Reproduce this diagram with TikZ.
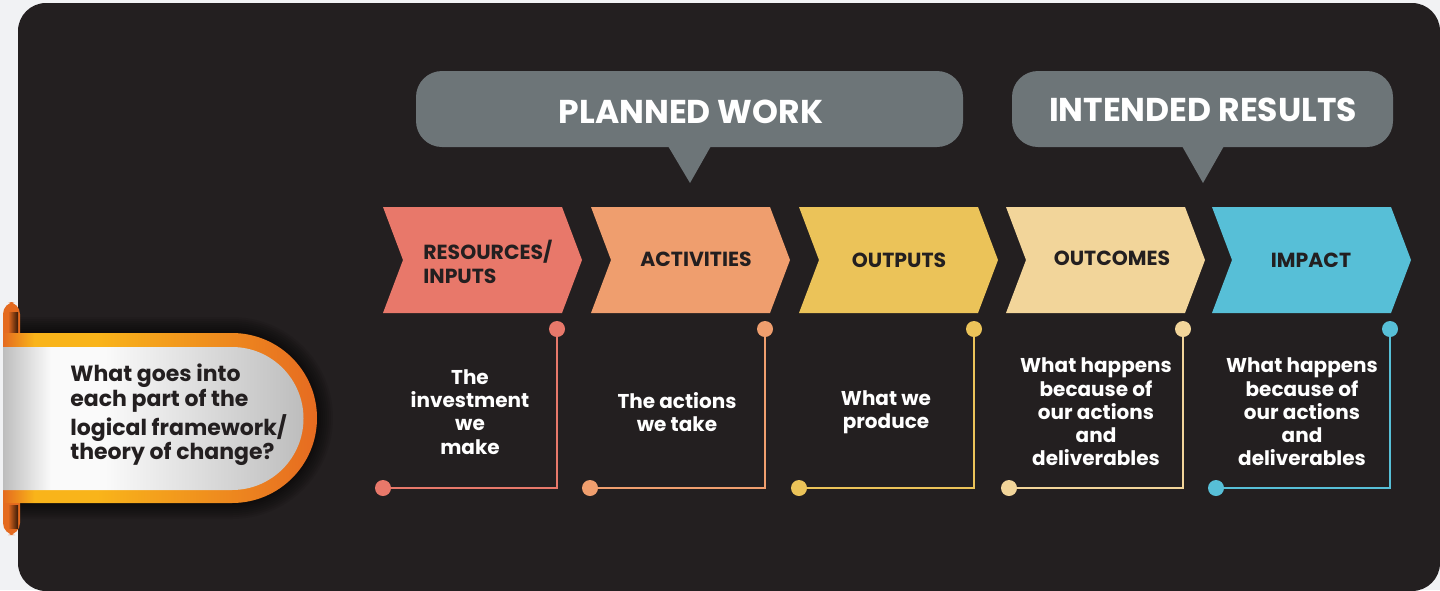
\documentclass[tikz,border=0pt]{standalone}
\usepackage{fontspec}
\setmainfont{Poppins}
\definecolor{bgc}{HTML}{F1F2F4}
\definecolor{panel}{HTML}{231F20}
\definecolor{cgray}{HTML}{6D7578}
\definecolor{ink}{HTML}{231F20}
\definecolor{ccoral}{HTML}{E8786A}
\definecolor{corange}{HTML}{EF9E6E}
\definecolor{cyellow}{HTML}{EBC359}
\definecolor{cpale}{HTML}{F2D59A}
\definecolor{ccyan}{HTML}{57BFD7}
\definecolor{o1}{HTML}{E46A1F}
\definecolor{o2}{HTML}{F9B41A}
\definecolor{o3}{HTML}{E66B21}
\definecolor{s1}{HTML}{BDBDBD}
\definecolor{s2}{HTML}{FAFAFA}
\definecolor{s3}{HTML}{BDBDBD}
\pgfdeclarehorizontalshading{orangeband}{100bp}{color(0bp)=(o1); color(25bp)=(o1); color(30bp)=(o2); color(40bp)=(o2); color(75bp)=(o3); color(100bp)=(o3)}
\pgfdeclarehorizontalshading{silverband}{100bp}{color(0bp)=(s1); color(25bp)=(s1); color(33bp)=(s2); color(42bp)=(s2); color(75bp)=(s3); color(100bp)=(s3)}
\begin{document}
\begin{tikzpicture}[x=0.5pt,y=-0.5pt,
  lab/.style={font=\bfseries\fontsize{10.2}{12}\selectfont, text=ink, inner sep=0pt},
  desc/.style={font=\bfseries\fontsize{10}{11.6}\selectfont, text=white, align=center, inner sep=0pt},
  dot/.style={circle, fill=#1, minimum size=8pt, inner sep=0pt, outer sep=0pt},
  link/.style={draw=#1, line width=1pt},
  callout/.style={fill=cgray, rounded corners=13pt},
  ctitle/.style={font=\bfseries\fontsize{16.5}{18}\selectfont, text=white, inner sep=0pt}]
\useasboundingbox (0,0) rectangle (1440,590);
\fill[bgc] (0,0) rectangle (1440,590);
\fill[panel, rounded corners=14pt] (18,3) rectangle (1440,591);

% callouts
\fill[callout] (416,71) rectangle (963,147);
\fill[cgray] (668,146) -- (711,146) -- (690,183) -- cycle;
\node[ctitle] (pw) at (691,112) {PLANNED WORK};
\fill[callout] (1012,71) rectangle (1393,147);
\fill[cgray] (1182,146) -- (1224,146) -- (1203,183) -- cycle;
\node[ctitle] (ir) at (1203,110) {INTENDED RESULTS};

% chevrons, dots and links
\foreach \xl/\tx/\bx/\c [count=\i] in {383/557/383/ccoral, 591/765/590/corange, 799/974/799/cyellow, 1006/1183/1009/cpale, 1212/1390/1216/ccyan} {
  \fill[\c] (\xl,207) -- ++(179,0) -- ++(20,53) -- ++(-20,53) -- ++(-179,0) -- ++(20,-53) -- cycle;
  \node[dot=\c] (t\i) at (\tx,329) {};
  \node[dot=\c] (b\i) at (\bx,488) {};
  \draw[link=\c] (t\i) |- (b\i);
}
\node[lab, anchor=west, align=left] (l1) at (423,262) {RESOURCES/\\INPUTS};
\node[lab] (l2) at (696,259) {ACTIVITIES};
\node[lab] (l3) at (899,260) {OUTPUTS};
\node[lab] (l4) at (1112,258) {OUTCOMES};
\node[lab] (l5) at (1311,260) {IMPACT};

\node[desc] (d1) at (470,412) {The\\investment\\we\\make};
\node[desc] (d2) at (677,412) {The actions\\we take};
\node[desc] (d3) at (886,412) {What we\\produce};
\node[desc] (d4) at (1096,412) {What happens\\because of\\our actions\\and\\deliverables};
\node[desc] (d5) at (1302,412) {What happens\\because of\\our actions\\and\\deliverables};

% banner shadow
\foreach \k in {1,...,8} {
  \fill[black, opacity=0.08] (18,333-2*\k) -- (232,333-2*\k) arc[start angle=90, end angle=-90, radius={42.5pt+\k pt}] -- (18,503+2*\k) -- cycle;
}
% left fold curls
\fill[o1, rounded corners=6pt] (3,347) -- (3,302) -- (20,302) -- (20,347) -- cycle;
\shade[left color=o1, right color=black!75!o1] (8,312) rectangle (18,335);
\fill[o1, rounded corners=6pt] (3,490) -- (3,535) -- (20,535) -- (20,490) -- cycle;
\shade[left color=o1, right color=black!75!o1] (8,505) rectangle (18,528);
% orange band
\shade[shading=orangeband] (3,333) -- (232,333) arc[start angle=90, end angle=-90, radius=42.5pt] -- (3,503) -- cycle;
% silver body
\shade[shading=silverband] (3,347) -- (232,347) arc[start angle=90, end angle=-90, radius=35.75pt] -- (3,490) -- cycle;
\node[font=\bfseries\fontsize{11}{12.3}\selectfont, text=ink, align=left, anchor=west, inner sep=0pt] (q) at (70,415) {What goes into\\each part of the\\logical framework/\\theory of change?};
\end{tikzpicture}
\end{document}
